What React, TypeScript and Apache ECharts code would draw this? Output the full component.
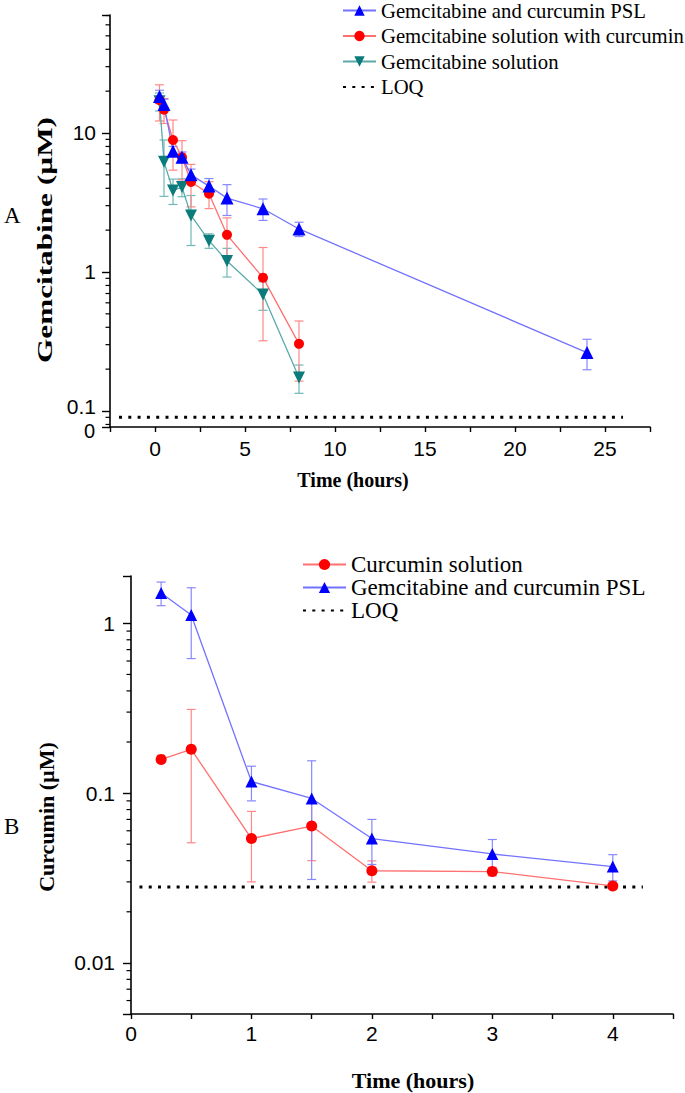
import React, { useEffect, useRef } from 'react';
import * as echarts from 'echarts';

// ---------- Panel A : Gemcitabine ----------
const LEGEND_A = ['Gemcitabine and curcumin PSL', 'Gemcitabine solution with curcumin', 'Gemcitabine solution', 'LOQ'];
const timesPslA = [0.25, 0.5, 1, 1.5, 2, 3, 4, 6, 8, 24];
const pslA = [18.3, 16.0, 7.4, 6.7, 5.0, 4.15, 3.4, 2.85, 2.04, 0.263];
const pslSdA = [2.0, 1.5, 0.6, 0.6, 0.5, 0.55, 0.85, 0.5, 0.24, 0.065];
const timesSolA = [0.25, 0.5, 1, 1.5, 2, 3, 4, 6, 8];
const solCurA = [17.2, 14.7, 8.9, 6.7, 4.44, 3.66, 1.85, 0.91, 0.304];
const solCurSdA = [5.0, 3.0, 3.5, 2.1, 1.5, 0.8, 0.6, 0.59, 0.14];
const solA = [16.9, 6.2, 3.86, 4.08, 2.55, 1.68, 1.2, 0.69, 0.174];
const solSdA = [2.5, 2.7, 0.8, 0.6, 1.0, 0.2, 0.28, 0.16, 0.04];
const loqA = 0.09;
const loqSpanA = [-2, 26];
const xLabelsA = ['0', '5', '10', '15', '20', '25'];
const yLabelsA = ['0.1', '1', '10'];
const xRangeA = [-2.5, 27.5];
const yRangeA = [0.0767, 70.6];

// ---------- Panel B : Curcumin ----------
const LEGEND_B = ['Curcumin solution', 'Gemcitabine and curcumin PSL', 'LOQ'];
const timesB = [0.25, 0.5, 1, 1.5, 2, 3, 4];
const curSolB = [0.158, 0.181, 0.054, 0.064, 0.0349, 0.0345, 0.0284];
const curSolSdB = [0.004, 0.13, 0.024, 0.024, 0.005, 0.002, 0.001];
const pslB = [1.51, 1.12, 0.117, 0.093, 0.054, 0.0438, 0.0369];
const pslSdB = [0.24, 0.5, 0.027, 0.062, 0.016, 0.0095, 0.0065];
const loqB = 0.028;
const loqSpanB = [0.07, 4.25];
const xLabelsB = ['0', '1', '2', '3', '4'];
const yLabelsB = ['0.01', '0.1', '1'];
const xRangeB = [0, 4.5];
const yRangeB = [0.005, 1.9];

const BLUE = '#0000ff', BLUE_L = '#7272ff', BLUE_E = '#8888ff';
const RED = '#ff0000', RED_L = '#ff7070', RED_E = '#ff8888';
const TEAL = '#0b7b7b', TEAL_L = '#5aaaaa', TEAL_E = '#70b8b8';

function minorTicks(range: number[]) {
  const out: number[] = [];
  for (let k = -4; k <= 3; k++) {
    const d = Math.pow(10, k);
    for (let m = 2; m <= 9; m++) {
      const v = m * d;
      if (v > range[0] && v < range[1]) out.push(v);
    }
  }
  return out;
}

const pairs = (xs: number[], ys: number[]) => xs.map((x, i) => [x, ys[i]]);
const triples = (xs: number[], ys: number[], es: number[]) => xs.map((x, i) => [x, ys[i], es[i]]);

const errRender = (color: string) => (params: any, api: any) => {
  const x = api.value(0), y = api.value(1), e = api.value(2);
  const hi = api.coord([x, y + e]);
  const lo = api.coord([x, Math.max(y - e, 1e-4)]);
  const w = 4.5;
  const style = { stroke: color, lineWidth: 1.2 };
  return {
    type: 'group',
    children: [
      { type: 'line', shape: { x1: hi[0], y1: hi[1], x2: lo[0], y2: lo[1] }, style },
      { type: 'line', shape: { x1: hi[0] - w, y1: hi[1], x2: hi[0] + w, y2: hi[1] }, style },
      { type: 'line', shape: { x1: lo[0] - w, y1: lo[1], x2: lo[0] + w, y2: lo[1] }, style },
    ],
  };
};

const minorRender = (len: number) => (params: any, api: any) => {
  const y = api.coord([api.value(0), api.value(1)])[1];
  const x0 = params.coordSys.x;
  return { type: 'line', shape: { x1: x0 - len, y1: y, x2: x0, y2: y }, style: { stroke: '#000', lineWidth: 1.2 } };
};

// lowest decade label of panel A sits slightly raised, above the broken "0"
const logFmt = (labels: string[], raised?: string) => (v: number) => {
  const s = Number(v.toPrecision(6)).toString();
  if (!labels.includes(s)) return '';
  return s === raised ? '{up|' + s + '}' : s;
};
const linFmt = (labels: string[]) => (v: number) => {
  const s = Number(v.toPrecision(6)).toString();
  return labels.includes(s) ? s : '';
};

const axisLine = { show: true, onZero: false, lineStyle: { color: '#000', width: 1.6 } };
const sans = 'Liberation Sans';
const serif = 'Liberation Serif';

function lineSeries(name: string, data: number[][], idx: number, color: string, lcolor: string, symbol: string, size: number, rotate = 0) {
  return {
    type: 'line', name, data, xAxisIndex: idx, yAxisIndex: idx,
    symbol, symbolSize: size, symbolRotate: rotate, showSymbol: true, z: 4,
    itemStyle: { color }, lineStyle: { color: lcolor, width: 1.3 },
  };
}
function errSeries(data: number[][], idx: number, color: string) {
  return {
    type: 'custom', data, xAxisIndex: idx, yAxisIndex: idx, clip: false, z: 2,
    encode: { x: 0, y: 1 }, renderItem: errRender(color),
  };
}
function loqSeries(span: number[], value: number, idx: number) {
  return {
    type: 'line', name: 'LOQ', data: [[span[0], value], [span[1], value]], xAxisIndex: idx, yAxisIndex: idx,
    symbol: 'none', z: 3, itemStyle: { color: 'rgba(0,0,0,0)' },
    lineStyle: { color: '#000', width: 3, type: [3, 6.3], cap: 'butt' },
  };
}

export default function App() {
  const ref = useRef<HTMLDivElement>(null);
  useEffect(() => {
    if (!ref.current) return;
    const chart = echarts.init(ref.current, undefined, { renderer: 'svg', width: 685, height: 1093 });
    const xAxisCommon = (range: number[], interval: number, labels: string[], margin: number) => ({
      type: 'value', min: range[0], max: range[1], interval,
      axisLine, splitLine: { show: false },
      axisTick: { show: true, inside: false, length: 5, lineStyle: { color: '#000', width: 1.4 } },
      axisLabel: { formatter: linFmt(labels), fontFamily: sans, fontSize: 21, color: '#000', margin },
    });
    const yAxisCommon = (range: number[], labels: string[], margin: number, raised?: string) => ({
      type: 'log', logBase: 10, min: range[0], max: range[1],
      axisLine, splitLine: { show: false }, minorTick: { show: false },
      axisTick: { show: true, inside: false, length: 8, lineStyle: { color: '#000', width: 1.4 } },
      axisLabel: {
        formatter: logFmt(labels, raised), fontFamily: sans, fontSize: 21, lineHeight: 16, color: '#000', margin,
        rich: { up: { fontFamily: sans, fontSize: 21, lineHeight: 16, color: '#000', padding: [0, 0, 9, 0] } },
      },
    });
    const option: any = {
      animation: false,
      backgroundColor: '#fff',
      grid: [
        { left: 110, top: 15, width: 540, height: 412 },
        { left: 131, top: 576, width: 542, height: 438 },
      ],
      xAxis: [xAxisCommon(xRangeA, 2.5, xLabelsA, 11), { ...xAxisCommon(xRangeB, 0.5, xLabelsB, 9), gridIndex: 1 }],
      yAxis: [yAxisCommon(yRangeA, yLabelsA, 14, '0.1'), { ...yAxisCommon(yRangeB, yLabelsB, 16), gridIndex: 1 }],
      legend: [
        {
          orient: 'vertical', left: 342, top: 0, padding: 0, itemWidth: 33, itemHeight: 13, itemGap: 4.5,
          selectedMode: false, data: LEGEND_A,
          textStyle: { fontFamily: serif, fontSize: 20.7, lineHeight: 20, color: '#000' },
        },
        {
          orient: 'vertical', left: 302, top: 553, padding: 0, itemWidth: 43, itemHeight: 14, itemGap: 0,
          selectedMode: false, data: LEGEND_B,
          textStyle: { fontFamily: serif, fontSize: 23, lineHeight: 21, color: '#000' },
        },
      ],
      series: [
        // panel A
        { type: 'custom', data: minorTicks(yRangeA).map((v) => [xRangeA[0], v]), xAxisIndex: 0, yAxisIndex: 0, clip: false, encode: { x: 0, y: 1 }, renderItem: minorRender(4.5), silent: true },
        loqSeries(loqSpanA, loqA, 0),
        errSeries(triples(timesSolA, solA, solSdA), 0, TEAL_E),
        errSeries(triples(timesSolA, solCurA, solCurSdA), 0, RED_E),
        errSeries(triples(timesPslA, pslA, pslSdA), 0, BLUE_E),
        lineSeries('Gemcitabine solution', pairs(timesSolA, solA), 0, TEAL, TEAL_L, 'triangle', 12, 180),
        lineSeries('Gemcitabine solution with curcumin', pairs(timesSolA, solCurA), 0, RED, RED_L, 'circle', 10),
        lineSeries('Gemcitabine and curcumin PSL', pairs(timesPslA, pslA), 0, BLUE, BLUE_L, 'triangle', 13),
        // panel B
        { type: 'custom', data: minorTicks(yRangeB).map((v) => [xRangeB[0], v]), xAxisIndex: 1, yAxisIndex: 1, clip: false, encode: { x: 0, y: 1 }, renderItem: minorRender(4.5), silent: true },
        loqSeries(loqSpanB, loqB, 1),
        errSeries(triples(timesB, curSolB, curSolSdB), 1, RED_E),
        errSeries(triples(timesB, pslB, pslSdB), 1, BLUE_E),
        lineSeries('Curcumin solution', pairs(timesB, curSolB), 1, RED, RED_L, 'circle', 11),
        lineSeries('Gemcitabine and curcumin PSL', pairs(timesB, pslB), 1, BLUE, BLUE_L, 'triangle', 12),
      ],
      graphic: [
        { type: 'text', x: 4, y: 215, style: { text: 'A', fontFamily: serif, fontSize: 23, fill: '#000', textAlign: 'left', textVerticalAlign: 'middle' } },
        { type: 'text', x: 4, y: 826, style: { text: 'B', fontFamily: serif, fontSize: 23, fill: '#000', textAlign: 'left', textVerticalAlign: 'middle' } },
        { type: 'text', x: 95, y: 431, style: { text: '0', fontFamily: sans, fontSize: 20, lineHeight: 15, fill: '#000', textAlign: 'right', textVerticalAlign: 'middle' } },
        { type: 'text', x: 45, y: 240, rotation: Math.PI / 2, scaleX: 1.42, style: { text: 'Gemcitabine (µM)', fontFamily: serif, fontWeight: 'bold', fontSize: 22, fill: '#000', textAlign: 'center', textVerticalAlign: 'middle' } },
        { type: 'text', x: 47, y: 817, rotation: Math.PI / 2, scaleX: 1.1, style: { text: 'Curcumin (µM)', fontFamily: serif, fontWeight: 'bold', fontSize: 20, fill: '#000', textAlign: 'center', textVerticalAlign: 'middle' } },
        { type: 'text', x: 353, y: 480, style: { text: 'Time (hours)', fontFamily: serif, fontWeight: 'bold', fontSize: 20, fill: '#000', textAlign: 'center', textVerticalAlign: 'middle' } },
        { type: 'text', x: 413, y: 1080, style: { text: 'Time (hours)', fontFamily: serif, fontWeight: 'bold', fontSize: 22, fill: '#000', textAlign: 'center', textVerticalAlign: 'middle' } },
      ],
    };
    chart.setOption(option);
    return () => chart.dispose();
  }, []);
  return <div ref={ref} style={{ position: 'absolute', left: 0, top: 0, width: 685, height: 1093, background: '#fff' }} />;
}
